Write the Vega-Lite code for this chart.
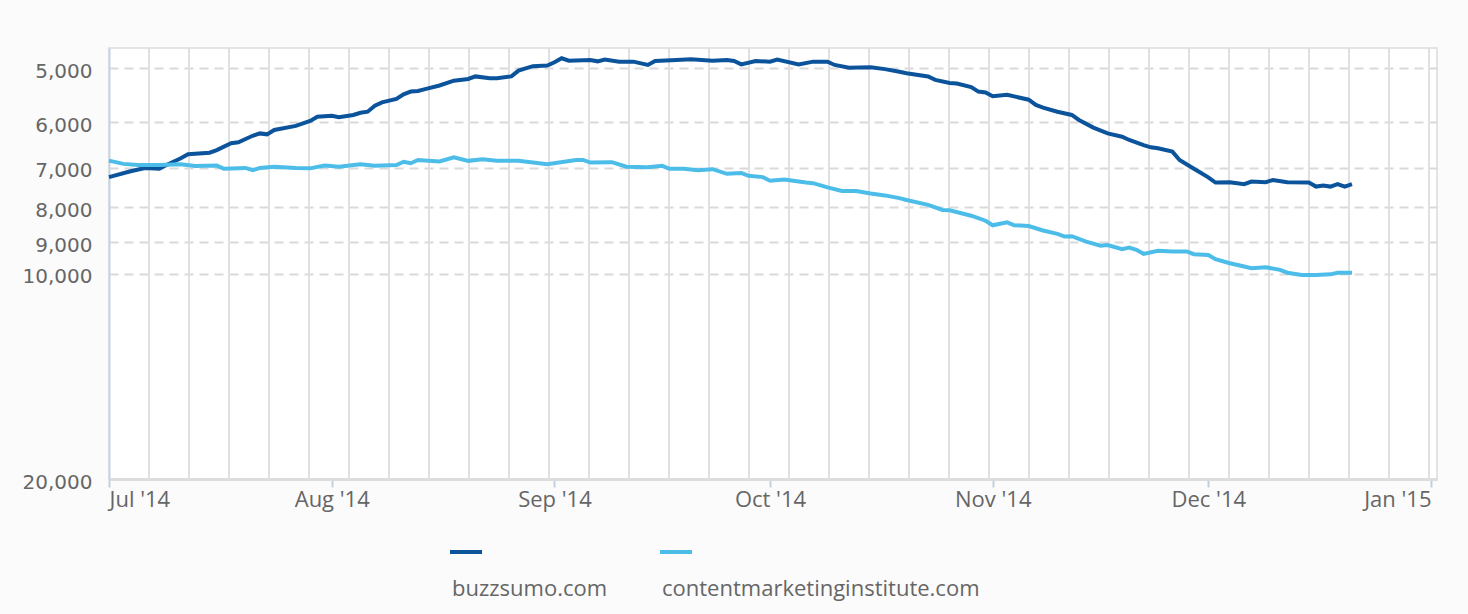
{
  "$schema": "https://vega.github.io/schema/vega-lite/v6.json",
  "autosize": {"type": "none"},
  "width": 1328,
  "height": 431,
  "padding": {"left": 109, "top": 48, "right": 31, "bottom": 135},
  "background": "#fbfbfb",
  "config": {
    "view": {"stroke": "#e4e4e4", "strokeWidth": 2, "fill": "#ffffff"}
  },
  "datasets": {
    "grid": [
      {"g": "2014-07-06T13:36Z"}, {"g": "2014-07-12T03:13Z"}, {"g": "2014-07-17T16:50Z"},
      {"g": "2014-07-23T06:27Z"}, {"g": "2014-07-28T20:04Z"}, {"g": "2014-08-03T09:40Z"},
      {"g": "2014-08-08T23:17Z"}, {"g": "2014-08-14T12:54Z"}, {"g": "2014-08-20T02:31Z"},
      {"g": "2014-08-25T16:08Z"}, {"g": "2014-08-31T05:44Z"}, {"g": "2014-09-05T19:21Z"},
      {"g": "2014-09-11T08:58Z"}, {"g": "2014-09-16T22:35Z"}, {"g": "2014-09-22T12:12Z"},
      {"g": "2014-09-28T01:48Z"}, {"g": "2014-10-03T15:25Z"}, {"g": "2014-10-09T05:02Z"},
      {"g": "2014-10-14T18:39Z"}, {"g": "2014-10-20T08:15Z"}, {"g": "2014-10-25T21:52Z"},
      {"g": "2014-10-31T11:29Z"}, {"g": "2014-11-06T01:06Z"}, {"g": "2014-11-11T14:43Z"},
      {"g": "2014-11-17T04:19Z"}, {"g": "2014-11-22T17:56Z"}, {"g": "2014-11-28T07:33Z"},
      {"g": "2014-12-03T21:10Z"}, {"g": "2014-12-09T10:47Z"}, {"g": "2014-12-15T00:23Z"},
      {"g": "2014-12-20T14:00Z"}, {"g": "2014-12-26T03:36Z"}, {"g": "2014-12-31T17:14Z"}
    ],
    "buzzsumo": [
      {"d": "2014-07-01", "v": 7220}, {"d": "2014-07-04", "v": 7080}, {"d": "2014-07-06", "v": 7000},
      {"d": "2014-07-08", "v": 7020}, {"d": "2014-07-09", "v": 6930}, {"d": "2014-07-11", "v": 6775},
      {"d": "2014-07-12", "v": 6685}, {"d": "2014-07-15", "v": 6650}, {"d": "2014-07-16", "v": 6590},
      {"d": "2014-07-17", "v": 6515}, {"d": "2014-07-18", "v": 6440}, {"d": "2014-07-19", "v": 6420},
      {"d": "2014-07-21", "v": 6280}, {"d": "2014-07-22", "v": 6230}, {"d": "2014-07-23", "v": 6250},
      {"d": "2014-07-24", "v": 6158}, {"d": "2014-07-27", "v": 6075}, {"d": "2014-07-29", "v": 5975},
      {"d": "2014-07-30", "v": 5890}, {"d": "2014-08-01", "v": 5870}, {"d": "2014-08-02", "v": 5900},
      {"d": "2014-08-04", "v": 5854}, {"d": "2014-08-05", "v": 5810}, {"d": "2014-08-06", "v": 5790},
      {"d": "2014-08-07", "v": 5675}, {"d": "2014-08-08", "v": 5610}, {"d": "2014-08-10", "v": 5545},
      {"d": "2014-08-11", "v": 5460}, {"d": "2014-08-12", "v": 5410}, {"d": "2014-08-13", "v": 5400},
      {"d": "2014-08-14", "v": 5365}, {"d": "2014-08-16", "v": 5300}, {"d": "2014-08-18", "v": 5215},
      {"d": "2014-08-20", "v": 5185}, {"d": "2014-08-21", "v": 5140}, {"d": "2014-08-23", "v": 5170},
      {"d": "2014-08-24", "v": 5170}, {"d": "2014-08-26", "v": 5140}, {"d": "2014-08-27", "v": 5040},
      {"d": "2014-08-29", "v": 4965}, {"d": "2014-08-31", "v": 4955}, {"d": "2014-09-01", "v": 4900},
      {"d": "2014-09-02", "v": 4835}, {"d": "2014-09-03", "v": 4875}, {"d": "2014-09-06", "v": 4865},
      {"d": "2014-09-07", "v": 4885}, {"d": "2014-09-08", "v": 4855}, {"d": "2014-09-10", "v": 4890},
      {"d": "2014-09-12", "v": 4890}, {"d": "2014-09-14", "v": 4945}, {"d": "2014-09-15", "v": 4880},
      {"d": "2014-09-18", "v": 4865}, {"d": "2014-09-20", "v": 4850}, {"d": "2014-09-23", "v": 4875},
      {"d": "2014-09-25", "v": 4865}, {"d": "2014-09-26", "v": 4880}, {"d": "2014-09-27", "v": 4935},
      {"d": "2014-09-29", "v": 4880}, {"d": "2014-10-01", "v": 4890}, {"d": "2014-10-02", "v": 4855},
      {"d": "2014-10-05", "v": 4935}, {"d": "2014-10-07", "v": 4890}, {"d": "2014-10-09", "v": 4890},
      {"d": "2014-10-10", "v": 4945}, {"d": "2014-10-12", "v": 4990}, {"d": "2014-10-15", "v": 4985},
      {"d": "2014-10-17", "v": 5015}, {"d": "2014-10-19", "v": 5060}, {"d": "2014-10-20", "v": 5085},
      {"d": "2014-10-23", "v": 5140}, {"d": "2014-10-24", "v": 5200}, {"d": "2014-10-26", "v": 5255},
      {"d": "2014-10-27", "v": 5265}, {"d": "2014-10-29", "v": 5330}, {"d": "2014-10-30", "v": 5410},
      {"d": "2014-10-31", "v": 5425}, {"d": "2014-11-01", "v": 5495}, {"d": "2014-11-03", "v": 5470},
      {"d": "2014-11-06", "v": 5560}, {"d": "2014-11-07", "v": 5660}, {"d": "2014-11-08", "v": 5710},
      {"d": "2014-11-10", "v": 5790}, {"d": "2014-11-12", "v": 5854}, {"d": "2014-11-13", "v": 5954},
      {"d": "2014-11-15", "v": 6110}, {"d": "2014-11-17", "v": 6230}, {"d": "2014-11-19", "v": 6300},
      {"d": "2014-11-20", "v": 6370}, {"d": "2014-11-22", "v": 6480}, {"d": "2014-11-23", "v": 6530},
      {"d": "2014-11-24", "v": 6550}, {"d": "2014-11-26", "v": 6625}, {"d": "2014-11-27", "v": 6815},
      {"d": "2014-11-29", "v": 7020}, {"d": "2014-11-30", "v": 7120}, {"d": "2014-12-01", "v": 7225},
      {"d": "2014-12-02", "v": 7355}, {"d": "2014-12-04", "v": 7345}, {"d": "2014-12-06", "v": 7395},
      {"d": "2014-12-07", "v": 7330}, {"d": "2014-12-09", "v": 7345}, {"d": "2014-12-10", "v": 7290},
      {"d": "2014-12-12", "v": 7345}, {"d": "2014-12-15", "v": 7355}, {"d": "2014-12-16", "v": 7455},
      {"d": "2014-12-17", "v": 7430}, {"d": "2014-12-18", "v": 7455}, {"d": "2014-12-19", "v": 7395},
      {"d": "2014-12-20", "v": 7455}, {"d": "2014-12-21", "v": 7395}
    ],
    "cmi": [
      {"d": "2014-07-01", "v": 6830}, {"d": "2014-07-03", "v": 6905}, {"d": "2014-07-05", "v": 6930},
      {"d": "2014-07-08", "v": 6930}, {"d": "2014-07-11", "v": 6915}, {"d": "2014-07-13", "v": 6955},
      {"d": "2014-07-16", "v": 6945}, {"d": "2014-07-17", "v": 7020}, {"d": "2014-07-20", "v": 7000},
      {"d": "2014-07-21", "v": 7055}, {"d": "2014-07-22", "v": 7000}, {"d": "2014-07-24", "v": 6970},
      {"d": "2014-07-27", "v": 7000}, {"d": "2014-07-29", "v": 7010}, {"d": "2014-07-31", "v": 6945},
      {"d": "2014-08-02", "v": 6970}, {"d": "2014-08-05", "v": 6915}, {"d": "2014-08-07", "v": 6950},
      {"d": "2014-08-10", "v": 6930}, {"d": "2014-08-11", "v": 6855}, {"d": "2014-08-12", "v": 6890},
      {"d": "2014-08-13", "v": 6815}, {"d": "2014-08-16", "v": 6850}, {"d": "2014-08-18", "v": 6755},
      {"d": "2014-08-20", "v": 6835}, {"d": "2014-08-22", "v": 6800}, {"d": "2014-08-24", "v": 6835},
      {"d": "2014-08-27", "v": 6830}, {"d": "2014-08-31", "v": 6915}, {"d": "2014-09-04", "v": 6815},
      {"d": "2014-09-05", "v": 6815}, {"d": "2014-09-06", "v": 6875}, {"d": "2014-09-09", "v": 6865},
      {"d": "2014-09-11", "v": 6970}, {"d": "2014-09-14", "v": 6985}, {"d": "2014-09-16", "v": 6950},
      {"d": "2014-09-17", "v": 7020}, {"d": "2014-09-19", "v": 7020}, {"d": "2014-09-21", "v": 7055},
      {"d": "2014-09-23", "v": 7030}, {"d": "2014-09-25", "v": 7140}, {"d": "2014-09-27", "v": 7120},
      {"d": "2014-09-28", "v": 7190}, {"d": "2014-09-30", "v": 7220}, {"d": "2014-10-01", "v": 7310},
      {"d": "2014-10-03", "v": 7280}, {"d": "2014-10-06", "v": 7355}, {"d": "2014-10-07", "v": 7370},
      {"d": "2014-10-09", "v": 7475}, {"d": "2014-10-11", "v": 7565}, {"d": "2014-10-13", "v": 7565},
      {"d": "2014-10-15", "v": 7630}, {"d": "2014-10-17", "v": 7680}, {"d": "2014-10-19", "v": 7750},
      {"d": "2014-10-20", "v": 7800}, {"d": "2014-10-23", "v": 7930}, {"d": "2014-10-25", "v": 8067},
      {"d": "2014-10-26", "v": 8075}, {"d": "2014-10-29", "v": 8225}, {"d": "2014-10-31", "v": 8365},
      {"d": "2014-11-01", "v": 8495}, {"d": "2014-11-03", "v": 8410}, {"d": "2014-11-04", "v": 8495},
      {"d": "2014-11-06", "v": 8515}, {"d": "2014-11-08", "v": 8645}, {"d": "2014-11-10", "v": 8745},
      {"d": "2014-11-11", "v": 8825}, {"d": "2014-11-12", "v": 8815}, {"d": "2014-11-14", "v": 8975},
      {"d": "2014-11-16", "v": 9100}, {"d": "2014-11-17", "v": 9080}, {"d": "2014-11-19", "v": 9210},
      {"d": "2014-11-20", "v": 9160}, {"d": "2014-11-21", "v": 9230}, {"d": "2014-11-22", "v": 9355},
      {"d": "2014-11-24", "v": 9260}, {"d": "2014-11-26", "v": 9280}, {"d": "2014-11-28", "v": 9280},
      {"d": "2014-11-29", "v": 9365}, {"d": "2014-12-01", "v": 9390}, {"d": "2014-12-02", "v": 9525},
      {"d": "2014-12-04", "v": 9655}, {"d": "2014-12-06", "v": 9765}, {"d": "2014-12-07", "v": 9820},
      {"d": "2014-12-09", "v": 9785}, {"d": "2014-12-11", "v": 9875}, {"d": "2014-12-12", "v": 9970},
      {"d": "2014-12-14", "v": 10050}, {"d": "2014-12-16", "v": 10050}, {"d": "2014-12-18", "v": 10025},
      {"d": "2014-12-19", "v": 9970}, {"d": "2014-12-21", "v": 9970}
    ]
  },
  "layer": [
    {
      "data": {"name": "grid"},
      "mark": {"type": "rule", "color": "#e0e0e0", "strokeWidth": 2},
      "encoding": {
        "x": {
          "field": "g", "type": "temporal",
          "scale": {
            "type": "utc",
            "domain": [
              {"year": 2014, "month": "jul", "date": 1, "utc": true},
              {"year": 2015, "month": "jan", "date": 1, "hours": 20, "utc": true}
            ]
          },
          "axis": {
            "title": null,
            "grid": false,
            "values": [
              {"year": 2014, "month": "jul", "date": 1, "utc": true},
              {"year": 2014, "month": "aug", "date": 1, "utc": true},
              {"year": 2014, "month": "sep", "date": 1, "utc": true},
              {"year": 2014, "month": "oct", "date": 1, "utc": true},
              {"year": 2014, "month": "nov", "date": 1, "utc": true},
              {"year": 2014, "month": "dec", "date": 1, "utc": true},
              {"year": 2015, "month": "jan", "date": 1, "utc": true}
            ],
            "format": "%b '%y",
            "labelFlush": 10,
            "labelFont": "Open Sans",
            "labelFontSize": 22,
            "labelColor": "#666666",
            "labelPadding": 2,
            "tickColor": "#c0d0e0",
            "tickWidth": 2,
            "tickSize": 8,
            "domainColor": "#dcdcdc",
            "domainWidth": 3
          }
        }
      }
    },
    {
      "data": {"name": "buzzsumo"},
      "mark": {"type": "line", "strokeWidth": 4},
      "encoding": {
        "x": {"field": "d", "type": "temporal"},
        "y": {
          "field": "v", "type": "quantitative",
          "scale": {"type": "log", "domain": [4670, 20000], "reverse": true, "nice": false, "zero": false},
          "axis": {
            "title": null,
            "values": [5000, 6000, 7000, 8000, 9000, 10000, 20000],
            "format": ",",
            "ticks": false,
            "grid": true,
            "gridColor": "#d9d9d9",
            "gridWidth": 2,
            "gridDash": [9, 6],
            "domainColor": "#c5d3e3",
            "domainWidth": 2,
            "labelFont": "DejaVu Sans",
            "labelFontSize": 20,
            "labelColor": "#666666",
            "labelPadding": 17,
            "labelOffset": 3
          }
        },
        "color": {
          "datum": "buzzsumo.com",
          "type": "nominal",
          "scale": {
            "domain": ["buzzsumo.com", "contentmarketinginstitute.com"],
            "range": ["#0b549c", "#4cbde8"]
          },
          "legend": {
            "title": null,
            "orient": "none",
            "legendX": 339,
            "legendY": 486,
            "direction": "horizontal",
            "symbolType": "stroke",
            "symbolSize": 1024,
            "symbolStrokeWidth": 4,
            "labelOffset": -32,
            "labelLimit": 500,
            "columnPadding": 44,
            "labelFont": "Open Sans",
            "labelFontSize": 22,
            "labelColor": "#666666",
            "labelBaseline": "alphabetic",
            "encode": {"labels": {"update": {"dy": {"value": 44}}}}
          }
        }
      }
    },
    {
      "data": {"name": "cmi"},
      "mark": {"type": "line", "strokeWidth": 4},
      "encoding": {
        "x": {"field": "d", "type": "temporal"},
        "y": {"field": "v", "type": "quantitative"},
        "color": {"datum": "contentmarketinginstitute.com", "type": "nominal"}
      }
    }
  ]
}
